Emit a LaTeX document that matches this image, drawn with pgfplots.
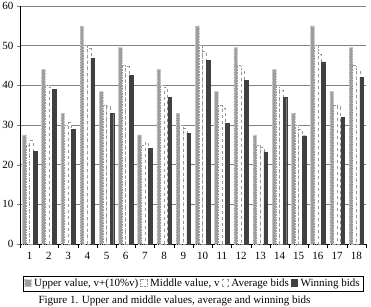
\documentclass[border=0pt]{standalone}
\usepackage{fontspec}
\setmainfont{Liberation Serif}
\usepackage{pgfplots}
\usepackage{pgfplotstable}
\pgfplotsset{compat=1.18}

\definecolor{upperfill}{RGB}{158,158,158}
\definecolor{upperedge}{RGB}{200,200,200}
\definecolor{midedge}{RGB}{150,150,150}
\definecolor{winfill}{RGB}{64,64,64}
\definecolor{gridgray}{RGB}{130,130,130}

% bid values per project
\pgfplotstableread{
grp upper middle average winning
1  27.5 25 26.2 23.4
2  44.0 40 39.6 39.0
3  33.0 30 30.6 28.9
4  55.0 50 49.4 46.8
5  38.5 35 34.6 33.0
6  49.5 45 44.7 42.5
7  27.5 25 25.6 24.1
8  44.0 40 39.6 36.9
9  33.0 30 29.2 27.9
10 55.0 50 48.7 46.3
11 38.5 35 34.2 30.5
12 49.5 45 43.5 41.3
13 27.5 25 24.5 23.2
14 44.0 40 38.8 36.9
15 33.0 30 28.9 27.3
16 55.0 50 47.8 45.9
17 38.5 35 34.6 32.0
18 49.5 45 43.6 42.1
}\bids

\begin{document}
\begin{tikzpicture}
\begin{axis}[
  scale only axis,
  width=346pt, height=238pt,
  xmin=0.5, xmax=18.5,
  ymin=0, ymax=60,
  ytick={0,10,...,60},
  xtick={1,...,18},
  minor xtick={0.5,1.5,...,18.5},
  major x tick style={draw=none},
  minor x tick style={black},
  minor tick length=4pt,
  major tick length=3pt,
  tick align=outside,
  axis lines*=left,
  axis line style={black},
  ymajorgrids,
  grid style={gridgray, line width=0.8pt},
  tick label style={font=\fontsize{11}{13}\selectfont},
  xticklabel style={yshift=-2pt},
  /pgf/number format/assume math mode=true,
  ybar=0pt,
  bar width=3.6pt,
  area legend,
  legend columns=4,
  legend style={at={(0.5,-0.134)}, anchor=north, draw=black,
    font=\fontsize{11}{13}\selectfont, inner sep=1pt,
    /tikz/every even column/.append style={column sep=0pt},
    /tikz/every odd column/.append style={column sep=1pt}},
  legend image code/.code={\draw[#1] (0cm,-0.1cm) rectangle (0.22cm,0.14cm);},
]
\addplot[fill=upperfill, draw=upperedge, densely dotted, line width=0.6pt]
  table[x=grp, y=upper] {\bids};
\addplot[fill=white, draw=midedge, densely dotted, line width=0.6pt]
  table[x=grp, y=middle] {\bids};
\addplot[fill=white, draw=midedge, dashed, line width=0.6pt]
  table[x=grp, y=average] {\bids};
\addplot[fill=winfill, draw=winfill]
  table[x=grp, y=winning] {\bids};
\legend{{Upper value, v+(10\%v)}, {Middle value, v}, {Average bids}, {Winning bids}}
\end{axis}
\node[anchor=base west, font=\fontsize{11}{13}\selectfont] at (15pt,-59.5pt)
  {Figure 1. Upper and middle values, average and winning bids};
\pgfresetboundingbox
\path[use as bounding box] (-20pt,-62pt) rectangle (351pt,244pt);
\end{tikzpicture}
\end{document}
